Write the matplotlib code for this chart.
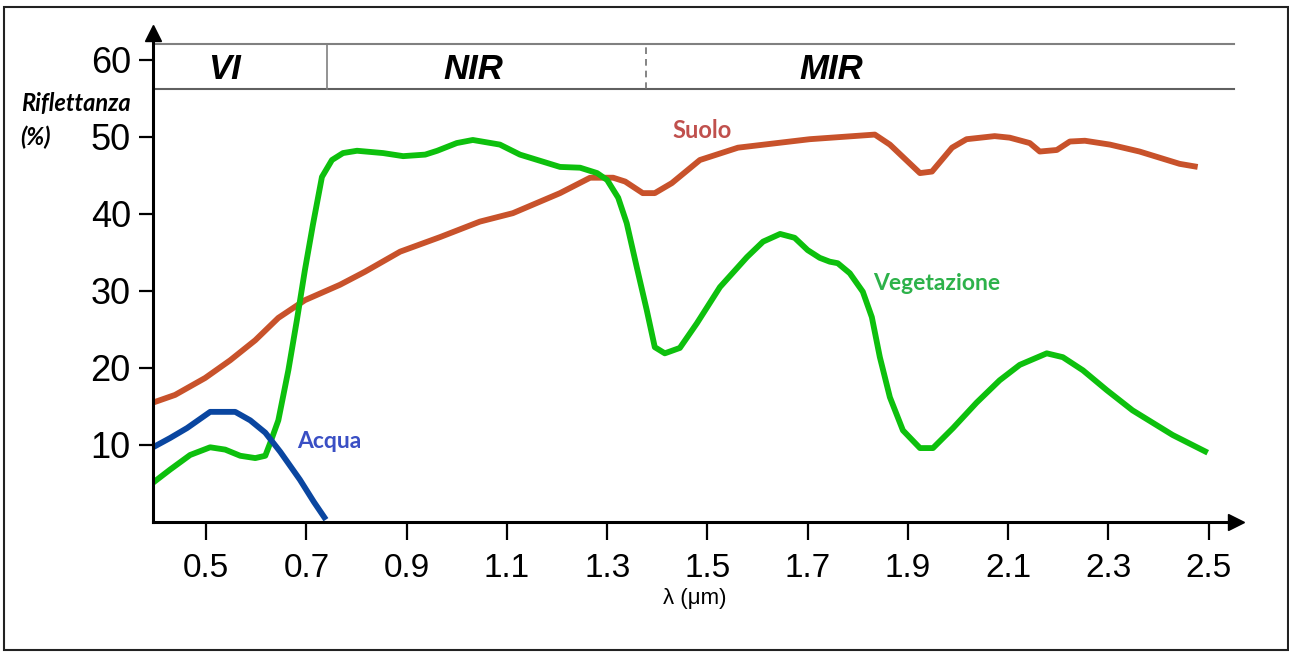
import matplotlib.pyplot as plt
from matplotlib.patches import Rectangle

# Spectral reflectance curves (wavelength in um, reflectance in %)
soil_wl = [0.394, 0.438, 0.498, 0.548, 0.598, 0.644, 0.697, 0.767, 0.817,
           0.887, 0.967, 1.046, 1.112, 1.206, 1.266, 1.312, 1.336, 1.371,
           1.395, 1.429, 1.485, 1.561, 1.665, 1.704, 1.834, 1.864, 1.924,
           1.948, 1.988, 2.017, 2.073, 2.103, 2.143, 2.163, 2.197, 2.223,
           2.253, 2.303, 2.362, 2.442, 2.478]
soil_refl = [15.5, 16.5, 18.7, 21.0, 23.6, 26.5, 28.8, 30.8, 32.5,
             35.1, 37.0, 39.0, 40.1, 42.7, 44.7, 44.7, 44.2, 42.7,
             42.7, 44.0, 47.0, 48.6, 49.4, 49.7, 50.3, 49.0, 45.3,
             45.5, 48.6, 49.7, 50.1, 49.9, 49.2, 48.1, 48.3, 49.4,
             49.5, 49.0, 48.1, 46.5, 46.1]

veg_wl = [0.394, 0.428, 0.468, 0.508, 0.538, 0.568, 0.598, 0.618, 0.628,
          0.644, 0.664, 0.681, 0.697, 0.713, 0.731, 0.751, 0.773, 0.801,
          0.853, 0.893, 0.937, 0.961, 1.000, 1.032, 1.086, 1.126, 1.206,
          1.246, 1.280, 1.300, 1.322, 1.339, 1.359, 1.379, 1.395, 1.415,
          1.445, 1.479, 1.525, 1.579, 1.611, 1.645, 1.674, 1.700, 1.724,
          1.744, 1.760, 1.784, 1.810, 1.828, 1.844, 1.864, 1.890, 1.924,
          1.950, 1.990, 2.037, 2.083, 2.123, 2.177, 2.209, 2.249, 2.297,
          2.348, 2.428, 2.498]
veg_refl = [5.1, 6.8, 8.7, 9.7, 9.4, 8.6, 8.3, 8.6, 10.3,
            13.2, 19.7, 26.2, 32.7, 38.6, 44.8, 47.0, 47.9, 48.2,
            47.9, 47.5, 47.7, 48.2, 49.2, 49.6, 49.0, 47.7, 46.1,
            46.0, 45.3, 44.4, 42.1, 38.8, 33.1, 27.5, 22.7, 21.9,
            22.6, 25.8, 30.5, 34.4, 36.4, 37.4, 36.9, 35.3, 34.3,
            33.8, 33.6, 32.3, 29.9, 26.6, 21.4, 16.2, 11.9, 9.6,
            9.6, 12.2, 15.5, 18.4, 20.4, 21.9, 21.4, 19.7, 17.1,
            14.5, 11.3, 9.0]

water_wl = [0.394, 0.428, 0.462, 0.508, 0.558, 0.588, 0.618, 0.648, 0.687,
            0.715, 0.739]
water_refl = [9.7, 10.9, 12.2, 14.3, 14.3, 13.2, 11.6, 9.1, 5.5,
              2.6, 0.3]

x_ticks = [0.5, 0.7, 0.9, 1.1, 1.3, 1.5, 1.7, 1.9, 2.1, 2.3, 2.5]
y_ticks = [10, 20, 30, 40, 50, 60]

# Spectral regions shown in the top band
regions = ['VI', 'NIR', 'MIR']
region_centres = [0.536, 1.034, 1.748]
region_bounds = [0.741, 1.377]

fig = plt.figure(figsize=(12.89, 6.53), dpi=100)
ax = fig.add_axes([0.1187, 0.2006, 0.840, 0.749])

ax.plot(soil_wl, soil_refl, color='#C8522B', lw=4.2, solid_capstyle='butt',
        solid_joinstyle='round')
ax.plot(veg_wl, veg_refl, color='#0DC00D', lw=4.2, solid_capstyle='butt',
        solid_joinstyle='round')
ax.plot(water_wl, water_refl, color='#0A46A0', lw=4.2, solid_capstyle='butt',
        solid_joinstyle='round')

ax.set_xlim(0.394, 2.554)
ax.set_ylim(0, 63.5)

# Axes drawn as arrows
for side in ['top', 'right']:
    ax.spines[side].set_visible(False)
for side in ['left', 'bottom']:
    ax.spines[side].set_linewidth(2.2)
ax.plot(0, 1, marker='^', ms=11, color='black', transform=ax.transAxes,
        clip_on=False)
ax.plot(1, 0, marker='>', ms=11, color='black', transform=ax.transAxes,
        clip_on=False)

ax.set_xticks(x_ticks)
ax.set_xticklabels([str(v) for v in x_ticks], fontsize=24,
                   family='Liberation Sans')
ax.set_yticks(y_ticks)
ax.set_yticklabels([str(v) for v in y_ticks], fontsize=26,
                   family='Liberation Sans')
ax.tick_params(axis='x', direction='out', length=13, width=1.6, pad=9)
ax.tick_params(axis='y', direction='out', length=10, width=1.6, pad=6)

ax.set_xlabel('λ (μm)', fontsize=16, family='Liberation Sans', labelpad=3)

# Top band with the spectral regions
band_low, band_high = 56.2, 62.1
ax.plot([0.394, 2.55], [band_high, band_high], color='#808080', lw=1.5)
ax.plot([0.394, 2.55], [band_low, band_low], color='#606060', lw=1.5)
ax.plot([region_bounds[0]] * 2, [band_low, band_high], color='#808080',
        lw=1.2)
ax.plot([region_bounds[1]] * 2, [band_low, band_high], color='#707070',
        lw=1.2, ls=(0, (4, 3)))
for name, xc in zip(regions, region_centres):
    ax.text(xc, 58.7, name, fontsize=25, fontweight='bold', style='italic',
            family='Liberation Sans', ha='center', va='center')

# Curve labels
ax.text(1.489, 50.8, 'Suolo', color='#C0504D', fontsize=17,
        fontweight='bold', family='Lato', ha='center', va='center')
ax.text(1.958, 31.0, 'Vegetazione', color='#2DB24A', fontsize=16.5,
        fontweight='bold', family='Lato', ha='center', va='center')
ax.text(0.745, 10.4, 'Acqua', color='#3A4FC4', fontsize=16.5,
        fontweight='bold', family='Lato', ha='center', va='center')

# y axis title, two lines left of the tick labels
fig.text(0.016, 1 - 104 / 653, 'Riflettanza', fontsize=17, fontweight='bold',
         style='italic', family='Lato', ha='left', va='center')
fig.text(0.016, 1 - 137 / 653, '(%)', fontsize=17, fontweight='bold',
         style='italic', family='Lato', ha='left', va='center')

# Frame around the whole figure
fig.patches.append(Rectangle((0.003, 0.004), 0.996, 0.985,
                             transform=fig.transFigure, fill=False,
                             edgecolor='#222222', lw=1.5))

fig.savefig('out.png', dpi=100)
